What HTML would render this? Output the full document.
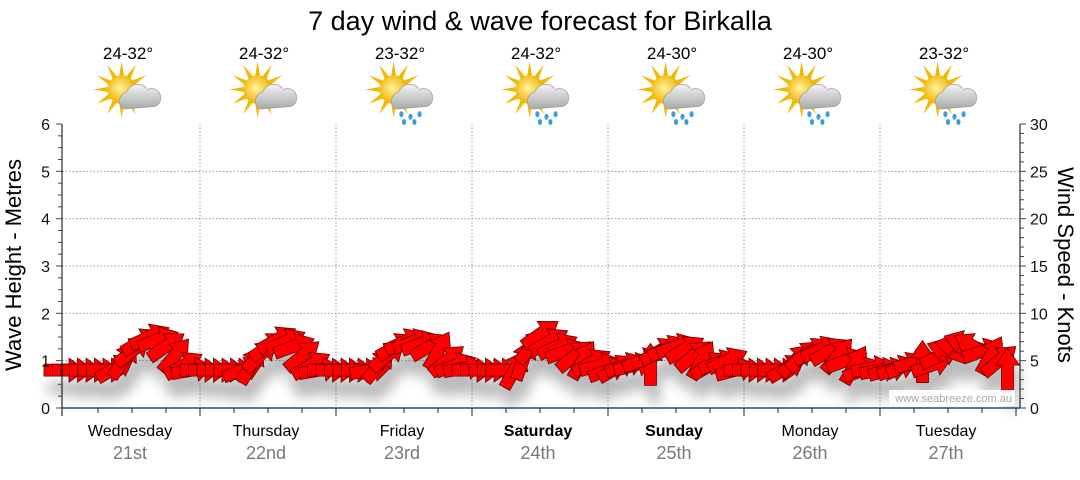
<!DOCTYPE html>
<html><head><meta charset="utf-8"><style>
body{margin:0;background:#fff;width:1080px;height:475px;overflow:hidden;font-family:"Liberation Sans",sans-serif}
svg text{font-family:"Liberation Sans",sans-serif}
</style></head><body>
<svg id="c" width="1080" height="475">
<defs>
<filter id="sh" x="-20%" y="-50%" width="140%" height="250%"><feGaussianBlur stdDeviation="6"/></filter>
<radialGradient id="sun" cx="45%" cy="45%" r="55%"><stop offset="0" stop-color="#fff6a0"/><stop offset="1" stop-color="#f0b000"/></radialGradient>
<linearGradient id="cloud" x1="0" y1="0" x2="0" y2="1"><stop offset="0" stop-color="#f4f4f4"/><stop offset="1" stop-color="#a8a8a8"/></linearGradient>
</defs>
<text x="540" y="30" font-size="27" text-anchor="middle" fill="#000">7 day wind &amp; wave forecast for Birkalla</text>
<g id="grid"></g><g id="shadow" filter="url(#sh)" opacity="0.4"></g><g id="arrows"></g><g id="axes"></g><g id="topg"></g>
<rect x="889" y="390" width="126" height="16" fill="#fff" opacity="0.9"/>
<text x="1012" y="402" font-size="11" fill="#aaa" text-anchor="end">www.seabreeze.com.au</text>
<text transform="translate(21,265) rotate(-90)" font-size="22" text-anchor="middle">Wave Height - Metres</text>
<text transform="translate(1058,265) rotate(90)" font-size="22" text-anchor="middle">Wind Speed - Knots</text>
</svg>
<script>
const days=["Wednesday","Thursday","Friday","Saturday","Sunday","Monday","Tuesday"];
const dates=["21st","22nd","23rd","24th","25th","26th","27th"];
const temps=["24-32°","24-32°","23-32°","24-32°","24-30°","24-30°","23-32°"];
const rainy=[false,false,true,true,true,true,true];
const windSpeed=[
4,4,4,4,4,4,4.2,5,6,7,7.5,7.2,6.5,5.5,4.5,4,
4,4,4,4,4,4,4.5,5.5,6.5,7.2,7,6.5,5.5,4.5,4,4,
4,4,4,4,4,4.5,5.5,6.5,7,7,6.8,6.5,6,5,4.5,4.2,
4,4,4,4,4,4,5,6.5,7.8,7,6.5,6,5.5,5,4.8,4.5,
4,4.2,4.5,4.5,5,4.5,6,6.3,6.5,6.2,5.5,5,4.5,4.8,5,4,
4,4,4,4,4,4.2,5,5.5,6,6.2,6,5.5,5,4.5,4,4.2,
4,4,4.2,4.5,4.8,4.8,4.5,5.5,6,6.5,6.8,6.5,6,5.5,5,4];
const windDir=[
0,0,0,0,0,0,-30,-55,-40,-30,-25,-20,-35,-50,-30,-10,
0,0,0,0,0,-20,-60,-45,-35,-30,-25,-20,-40,-30,-10,0,
0,0,0,0,-10,-50,-40,-30,-25,-20,-20,-30,-60,-40,-20,-10,
0,0,0,0,0,-60,-70,-50,-35,-30,-25,-20,-40,-60,-30,-15,
-20,-30,-20,-15,-20,-90,-30,-25,-20,-30,-40,-60,-30,-20,-25,-15,
0,0,0,0,0,-30,-45,-40,-30,-25,-30,-50,-20,-60,-20,-10,
-10,-15,-20,-25,-15,-90,-20,-25,-160,-170,-160,-150,-20,-60,-40,-90];
const waveTicks=[0,1,2,3,4,5,6];
const windTicks=[0,5,10,15,20,25,30];
const NS="http://www.w3.org/2000/svg";
const X0=64,DAYW=136,Y0=408,YT=124;
const xPos=i=>X0+i*(DAYW/16);
const yWave=v=>Y0-(Y0-YT)*v/6;
const yWind=v=>Y0-(Y0-YT)*v/30;
function mk(tag,attrs,parent){const e=document.createElementNS(NS,tag);for(const k in attrs)e.setAttribute(k,attrs[k]);parent.appendChild(e);return e;}
const grid=document.getElementById('grid'),axes=document.getElementById('axes'),topG=document.getElementById('topg');
waveTicks.forEach(v=>{if(v>0&&v<6){const l=mk('line',{x1:62,x2:1020,y1:yWave(v),y2:yWave(v),stroke:'#999','stroke-dasharray':'1.5,2'},grid);

}});
for(let d=1;d<7;d++){const l=mk('line',{x1:X0+d*DAYW,x2:X0+d*DAYW,y1:YT,y2:Y0,stroke:'#999','stroke-dasharray':'1.5,2'},grid);

}
mk('line',{x1:62,x2:62,y1:YT,y2:Y0+8,stroke:'#000'},axes);
mk('line',{x1:1020,x2:1020,y1:YT,y2:Y0,stroke:'#000'},axes);
mk('line',{x1:62,x2:1020,y1:Y0,y2:Y0,stroke:'#1f4e79','stroke-width':1.5},axes);
for(let k=0;k<=24;k++){const y=Y0-(Y0-YT)*k/24;mk('line',{x1:k%4==0?56:58,x2:62,y1:y,y2:y,stroke:'#444'},axes);}
waveTicks.forEach(v=>{const t=mk('text',{x:50,y:yWave(v)+6,'font-size':16,'text-anchor':'end',fill:'#111'},axes);t.textContent=v;

});
for(let k=0;k<=30;k++){const y=yWind(k);mk('line',{x1:1020,x2:k%5==0?1026:1024,y1:y,y2:y,stroke:'#444'},axes);}
windTicks.forEach(v=>{const t=mk('text',{x:1030,y:yWind(v)+6,'font-size':16,fill:'#111'},axes);t.textContent=v;

});
for(let k=0;k<28;k++){const x=X0+k*34+34;if(x>1016)break;mk('line',{x1:x,x2:x,y1:Y0,y2:Y0+(k%4==3?8:5),stroke:'#222'},axes);}
days.forEach((d,i)=>{const cx=X0+i*DAYW+66;
const t=mk('text',{x:cx,y:436,'font-size':16,'text-anchor':'middle','font-weight':(i==3||i==4)?'bold':'normal'},axes);t.textContent=d;


const t2=mk('text',{x:cx,y:459,'font-size':18,'text-anchor':'middle',fill:'#777'},axes);t2.textContent=dates[i];


const t3=mk('text',{x:cx-2,y:59,'font-size':17,'text-anchor':'middle'},topG);t3.textContent=temps[i];


const g=mk('g',{transform:`translate(${cx+2},96) scale(1.3)`},topG);


for(let r=0;r<12;r++){const a=r*30;mk('polygon',{points:'-2,-10 2,-10 0,-22',fill:'#f5b800',transform:`translate(-8,-5) rotate(${a})`},g);}
mk('circle',{cx:-8,cy:-5,r:11,fill:'url(#sun)'},g);
mk('path',{d:'M-6,10 a7,7 0 0 1 2,-13 a9,9 0 0 1 16,-2 a7,7 0 0 1 6,13 z',fill:'url(#cloud)',stroke:'#999','stroke-width':0.5},g);
if(rainy[i]){[[-2,14],[5,16],[12,14],[0,20],[8,20]].forEach(p=>mk('ellipse',{cx:p[0],cy:p[1],rx:1.6,ry:2.3,fill:'#3a9ee0'},g));}
});
const ag=document.getElementById('arrows'),sg=document.getElementById('shadow');
const shape='M-20,-6 L5,-6 L5,-12 L22,0 L5,12 L5,6 L-20,6 Z';
windSpeed.forEach((s,i)=>{const x=xPos(i),y=yWind(s);
mk('path',{d:shape,fill:'#555',transform:`translate(${x+4},${y+18}) rotate(${windDir[i]})`},sg);
const p=mk('path',{d:shape,fill:'#ff0000',stroke:'#6a0000','stroke-width':0.8,transform:`translate(${x},${y}) rotate(${windDir[i]})`},ag);

});
</script>
</body></html>
